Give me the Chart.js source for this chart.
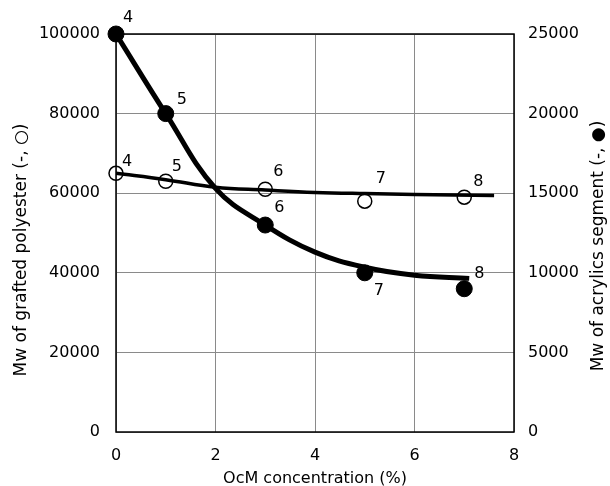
<!DOCTYPE html>
<html>
<head>
<meta charset="utf-8">
<script src="https://cdn.jsdelivr.net/npm/chart.js@4"></script>
<style>
  body { margin: 0; background: #fff; }
  #wrap { width: 610px; height: 486px; }
</style>
</head>
<body>
<div id="wrap"><canvas id="chart" width="610" height="486"></canvas></div>
<script>
// measured samples (OcM concentration, %)
var concX = [0, 1, 3, 5, 7];
var sampleNo = ["4", "5", "6", "7", "8"];
var mwPolyester = [65000, 63000, 61000, 58000, 59000];   // open circles, left axis
var mwAcrylics = [25000, 20000, 13000, 10000, 9000];     // filled circles, right axis

// hand drawn trend lines
var fitPolyX = [0, 1, 2, 3, 4, 5, 6, 7.6];
var fitPolyY = [65000, 63400, 61500, 60800, 60200, 59900, 59700, 59400];
var fitAcrX = [0, 1, 2, 3, 4, 5, 6, 7.1];
var fitAcrY = [25000, 20000, 15300, 13000, 11300, 10350, 9850, 9650];

var leftTitle = "Mw of grafted polyester (-, \u25CB)";
var rightTitle = "Mw of acrylics segment (-, \u25CF)";

function pairs(xs, ys) {
  return xs.map(function (x, i) { return { x: x, y: ys[i] }; });
}

function plain(v) { return String(v); }

Chart.defaults.font.family = "'DejaVu Sans', sans-serif";
Chart.defaults.font.size = 16;
Chart.defaults.color = "#000";

// box round the plot + the two y titles (both read bottom to top)
var frame = {
  id: "frame",
  beforeDatasetsDraw: function (chart) {
    var a = chart.chartArea, ctx = chart.ctx;
    ctx.save();
    ctx.strokeStyle = "#000";
    ctx.lineWidth = 1.5;
    ctx.strokeRect(a.left, a.top, a.right - a.left, a.bottom - a.top);
    ctx.restore();
  },
  afterDraw: function (chart) {
    var a = chart.chartArea, ctx = chart.ctx;
    var midY = (a.top + a.bottom) / 2 + 17;
    ctx.save();
    ctx.fillStyle = "#000";
    ctx.font = "17px 'DejaVu Sans', sans-serif";
    ctx.textAlign = "center";
    ctx.textBaseline = "middle";
    ctx.translate(22, midY);
    ctx.rotate(-Math.PI / 2);
    ctx.fillText(leftTitle, 0, 0);
    ctx.restore();
    ctx.save();
    ctx.fillStyle = "#000";
    ctx.font = "17px 'DejaVu Sans', sans-serif";
    ctx.textAlign = "center";
    ctx.textBaseline = "middle";
    ctx.translate(599, midY - 4);
    ctx.rotate(-Math.PI / 2);
    ctx.fillText(rightTitle, 0, 0);
    ctx.restore();
  }
};

// sample numbers next to each point
var numbers = {
  id: "numbers",
  afterDatasetsDraw: function (chart) {
    var ctx = chart.ctx;
    var offs = {
      0: [[12, -16], [16, -14], [14, -17], [14, 18], [15, -15]],
      1: [[11, -11], [11, -14], [13, -17], [16, -22], [14, -15]]
    };
    ctx.save();
    ctx.fillStyle = "#000";
    ctx.font = "16px 'DejaVu Sans', sans-serif";
    ctx.textAlign = "center";
    ctx.textBaseline = "middle";
    [0, 1].forEach(function (di) {
      chart.getDatasetMeta(di).data.forEach(function (el, i) {
        ctx.fillText(sampleNo[i], el.x + offs[di][i][0], el.y + offs[di][i][1]);
      });
    });
    ctx.restore();
  }
};

new Chart(document.getElementById("chart"), {
  type: "line",
  data: {
    datasets: [
      {
        label: "acrylics",
        data: pairs(concX, mwAcrylics),
        yAxisID: "y2",
        showLine: false,
        pointRadius: 8,
        pointBackgroundColor: "#000",
        pointBorderColor: "#000",
        clip: false
      },
      {
        label: "polyester",
        data: pairs(concX, mwPolyester),
        yAxisID: "y",
        showLine: false,
        pointRadius: 7,
        pointBorderWidth: 1.5,
        pointBackgroundColor: "rgba(0,0,0,0)",
        pointBorderColor: "#000",
        clip: false
      },
      {
        label: "acrylics fit",
        data: pairs(fitAcrX, fitAcrY),
        yAxisID: "y2",
        borderColor: "#000",
        borderWidth: 5,
        pointRadius: 0,
        tension: 0.4
      },
      {
        label: "polyester fit",
        data: pairs(fitPolyX, fitPolyY),
        yAxisID: "y",
        borderColor: "#000",
        borderWidth: 3.5,
        pointRadius: 0,
        tension: 0.4
      }
    ]
  },
  options: {
    responsive: false,
    animation: false,
    layout: { padding: { top: 34, left: 0, right: 0, bottom: 0 } },
    plugins: { legend: { display: false }, tooltip: { enabled: false } },
    scales: {
      x: {
        type: "linear",
        min: 0,
        max: 8,
        ticks: { stepSize: 2, padding: 14, callback: plain },
        grid: { color: "#8a8a8a", lineWidth: 1, drawTicks: false },
        border: { display: false },
        title: { display: true, text: "OcM concentration (%)", padding: { top: 0, bottom: -2 } },
        afterFit: function (s) { s.height = 54; }
      },
      y: {
        position: "left",
        min: 0,
        max: 100000,
        ticks: { stepSize: 20000, padding: 16, callback: plain },
        grid: { color: "#8a8a8a", lineWidth: 1, drawTicks: false },
        border: { display: false },
        afterFit: function (s) { s.width = 116; }
      },
      y2: {
        position: "right",
        min: 0,
        max: 25000,
        ticks: { stepSize: 5000, padding: 14, callback: plain },
        grid: { display: false, drawTicks: false },
        border: { display: false },
        afterFit: function (s) { s.width = 96; }
      }
    }
  },
  plugins: [frame, numbers]
});
</script>
</body>
</html>
